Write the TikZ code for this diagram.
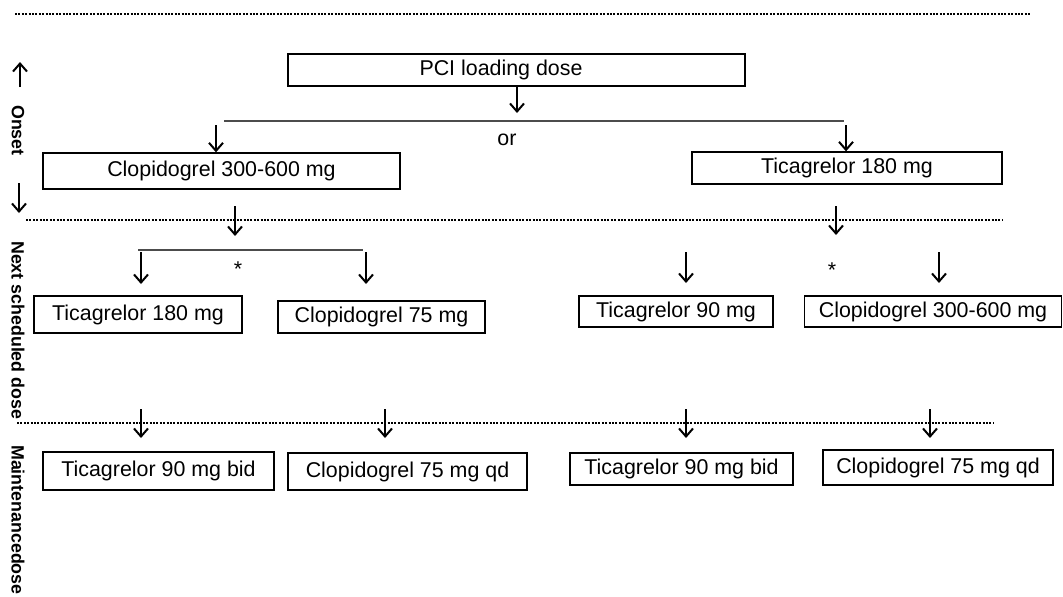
\documentclass[tikz,border=0pt]{standalone}
\usepackage{fontspec}
\setmainfont{Liberation Sans}
\usetikzlibrary{arrows.meta}
\begin{document}
\begin{tikzpicture}[x=1pt,y=-1pt,
  box/.style={draw=black, line width=1.3pt, inner sep=0pt, font=\fontsize{21.4}{24}\selectfont},
  arr/.style={line width=2pt, -{Straight Barb[length=8pt,width=14pt,line width=2pt]}},
  sep/.style={line width=2.6pt, dash pattern=on 1.9pt off 1.5pt},
  hline/.style={line width=1.4pt, draw=black!70},
  lab/.style={font=\bfseries\fontsize{17.8}{20}\selectfont, rotate=-90, anchor=west, inner sep=0pt},
  txt/.style={font=\fontsize{21.4}{24}\selectfont, inner sep=0pt}]
\useasboundingbox (0,0) rectangle (1063,597);

% separators
\coordinate (s1a) at (15,14);   \coordinate (s1b) at (1030,14);
\coordinate (s2a) at (26,220);  \coordinate (s2b) at (1002,220);
\coordinate (s3a) at (17,423);  \coordinate (s3b) at (993,423);
\draw[sep] (s1a) -- (s1b);
\draw[sep] (s2a) -- (s2b);
\draw[sep] (s3a) -- (s3b);

% side labels
\coordinate (up1) at (20,87);  \coordinate (up2) at (20,62);
\draw[arr] (up1) -- (up2);
\node[lab] (onset) at (18,105) {Onset};
\coordinate (dn1) at (19,183);  \coordinate (dn2) at (19,213);
\draw[arr] (dn1) -- (dn2);
\node[lab] (next) at (18,241) {Next scheduled dose};
\node[lab] (maint) at (18,445) {Maintenancedose};

% boxes
\node[box, minimum width=457pt, minimum height=32pt] (pci) at (516.5,70) {\hspace*{-31pt}PCI loading dose};
\node[box, minimum width=357pt, minimum height=36pt] (clopL) at (221.5,171) {Clopidogrel 300-600 mg};
\node[box, minimum width=310pt, minimum height=32pt] (ticR) at (847,168) {Ticagrelor 180 mg};
\node[box, minimum width=208pt, minimum height=37pt] (tic180) at (138,314.5) {Ticagrelor 180 mg};
\node[box, minimum width=207pt, minimum height=32pt] (clop75) at (381.5,317) {Clopidogrel 75 mg};
\node[box, minimum width=194pt, minimum height=31pt] (tic90) at (676,311.5) {Ticagrelor 90 mg};
\node[box, minimum width=257pt, minimum height=31pt] (clop300) at (933,311.5) {Clopidogrel 300-600 mg};
\node[box, minimum width=231pt, minimum height=38pt] (mTicL) at (158.5,471) {Ticagrelor 90 mg bid};
\node[box, minimum width=239pt, minimum height=37pt] (mClopL) at (407.5,471.5) {Clopidogrel 75 mg qd};
\node[box, minimum width=223pt, minimum height=32pt] (mTicR) at (681.5,469) {Ticagrelor 90 mg bid};
\node[box, minimum width=230pt, minimum height=35pt] (mClopR) at (938,467.5) {Clopidogrel 75 mg qd};

% onset branching
\coordinate (pciArr) at (517,113);
\draw[arr] (pci.south -| pciArr) -- (pciArr);
\coordinate (or1) at (224,121); \coordinate (or2) at (844,121);
\draw[hline] (or1) -- (or2);
\node[txt] (or) at (507,140) {or};
\coordinate (aL) at (216,125);
\draw[arr] (aL) -- (aL |- clopL.north);
\coordinate (aR) at (846,125);
\draw[arr] (aR) -- (aR |- ticR.north);

% crossing arrows
\coordinate (cL1) at (235,206); \coordinate (cL2) at (235,236);
\draw[arr] (cL1) -- (cL2);
\coordinate (cR1) at (836,206); \coordinate (cR2) at (836,235);
\draw[arr] (cR1) -- (cR2);

% next scheduled dose branching
\coordinate (n1) at (138,250); \coordinate (n2) at (363,250);
\draw[hline] (n1) -- (n2);
\coordinate (nA1) at (141,252); \coordinate (nA2) at (141,284);
\draw[arr] (nA1) -- (nA2);
\coordinate (nB1) at (366,252); \coordinate (nB2) at (366,284);
\draw[arr] (nB1) -- (nB2);
\node[txt] (starL) at (238,269) {*};
\coordinate (nC1) at (686,252); \coordinate (nC2) at (686,283);
\draw[arr] (nC1) -- (nC2);
\coordinate (nD1) at (939,252); \coordinate (nD2) at (939,283);
\draw[arr] (nD1) -- (nD2);
\node[txt] (starR) at (832,270) {*};

% maintenance arrows
\coordinate (mA1) at (141,409); \coordinate (mA2) at (141,438);
\draw[arr] (mA1) -- (mA2);
\coordinate (mB1) at (385,409); \coordinate (mB2) at (385,438);
\draw[arr] (mB1) -- (mB2);
\coordinate (mC1) at (686,409); \coordinate (mC2) at (686,438);
\draw[arr] (mC1) -- (mC2);
\coordinate (mD1) at (930,409); \coordinate (mD2) at (930,438);
\draw[arr] (mD1) -- (mD2);
\end{tikzpicture}
\end{document}
